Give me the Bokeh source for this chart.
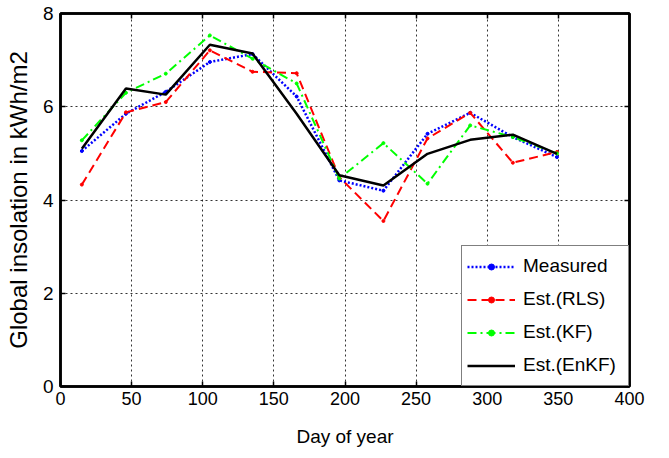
from bokeh.plotting import figure
from bokeh.models import LinearAxis, Legend, LegendItem, FixedTicker, Range1d
from bokeh.embed import file_html
from bokeh.resources import INLINE

days = [15, 46, 74, 105, 135, 166, 196, 227, 258, 288, 318, 349]
measured = [5.05, 5.85, 6.32, 6.96, 7.13, 6.22, 4.42, 4.2, 5.42, 5.87, 5.35, 4.92]
rls = [4.33, 5.88, 6.1, 7.21, 6.75, 6.72, 4.49, 3.55, 5.32, 5.87, 4.8, 5.03]
kf = [5.28, 6.3, 6.71, 7.53, 7.03, 6.5, 4.46, 5.22, 4.35, 5.6, 5.35, 5.0]
enkf = [5.1, 6.39, 6.26, 7.33, 7.14, 5.85, 4.53, 4.31, 4.99, 5.29, 5.4, 4.99]

x_ticks = [0, 50, 100, 150, 200, 250, 300, 350, 400]
y_ticks = [0, 2, 4, 6, 8]

FONT = "Liberation Sans"

p = figure(frame_width=569, frame_height=373, output_backend="svg", toolbar_location=None,
           x_range=Range1d(0, 400), y_range=Range1d(0, 8),
           min_border_left=60, min_border_right=40, min_border_top=13, min_border_bottom=72)

p.outline_line_color = "black"
p.outline_line_width = 2.5

for ax in [p.xaxis[0], p.yaxis[0]]:
    ax.major_tick_in = 5
    ax.major_tick_out = 0
    ax.minor_tick_in = 0
    ax.minor_tick_out = 0
    ax.axis_line_width = 2.5
    ax.major_tick_line_width = 1.5
    ax.major_label_text_font = FONT
    ax.major_label_text_font_size = "18px"
    ax.major_label_text_color = "black"
    ax.axis_label_text_font = FONT
    ax.axis_label_text_font_style = "normal"
    ax.axis_label_text_color = "black"

p.xaxis[0].ticker = FixedTicker(ticks=x_ticks)
p.yaxis[0].ticker = FixedTicker(ticks=y_ticks)
p.yaxis[0].major_label_text_font_size = "19px"
p.xaxis[0].axis_label = "Day of year"
p.yaxis[0].axis_label = "Global insolation in kWh/m2"
p.xaxis[0].axis_label_text_font_size = "19px"
p.yaxis[0].axis_label_text_font_size = "24px"
p.xaxis[0].major_label_standoff = 5
p.xaxis[0].axis_label_standoff = 18
p.yaxis[0].major_label_standoff = 7
p.yaxis[0].axis_label_standoff = 8

top = LinearAxis(ticker=FixedTicker(ticks=x_ticks),
                 major_label_overrides={t: "" for t in x_ticks},
                 major_tick_in=5, major_tick_out=0, minor_tick_in=0, minor_tick_out=0,
                 axis_line_width=2.5, major_tick_line_width=1.5, major_label_standoff=0)
right = LinearAxis(ticker=FixedTicker(ticks=y_ticks),
                   major_label_overrides={t: "" for t in y_ticks},
                   major_tick_in=5, major_tick_out=0, minor_tick_in=0, minor_tick_out=0,
                   axis_line_width=2.5, major_tick_line_width=1.5, major_label_standoff=0)
p.add_layout(top, "above")
p.add_layout(right, "right")

p.xgrid.ticker = FixedTicker(ticks=x_ticks)
p.ygrid.ticker = FixedTicker(ticks=y_ticks)
for g in [p.xgrid[0], p.ygrid[0]]:
    g.grid_line_color = "black"
    g.grid_line_dash = "2 3"
    g.grid_line_width = 1
    g.grid_line_alpha = 0.8

l1 = p.line(days, measured, line_color="#0000ff", line_dash="2 2", line_width=2.5)
m1 = p.scatter(days, measured, size=3, marker="circle", color="#0000ff")
l2 = p.line(days, rls, line_color="#ff0000", line_dash="9 5", line_width=2)
m2 = p.scatter(days, rls, size=3, marker="circle", color="#ff0000")
l3 = p.line(days, kf, line_color="#00ff00", line_dash="9 4 2 4", line_width=2)
m3 = p.scatter(days, kf, size=3, marker="circle", color="#00ff00")
l4 = p.line(days, enkf, line_color="black", line_width=2.5)

legend = Legend(items=[
    LegendItem(label="Measured", renderers=[l1, m1]),
    LegendItem(label="Est.(RLS)", renderers=[l2, m2]),
    LegendItem(label="Est.(KF)", renderers=[l3, m3]),
    LegendItem(label="Est.(EnKF)", renderers=[l4]),
], location="bottom_right")
legend.label_text_font = FONT
legend.label_text_font_size = "19px"
legend.label_text_color = "black"
legend.border_line_color = "black"
legend.border_line_width = 1
legend.background_fill_alpha = 1
legend.glyph_width = 48
legend.glyph_height = 15
legend.label_height = 30
legend.label_width = 100
legend.spacing = 3
legend.margin = 0
legend.padding = 5
legend.label_standoff = 8
p.add_layout(legend)

open("out.html", "w").write(file_html(p, INLINE))
